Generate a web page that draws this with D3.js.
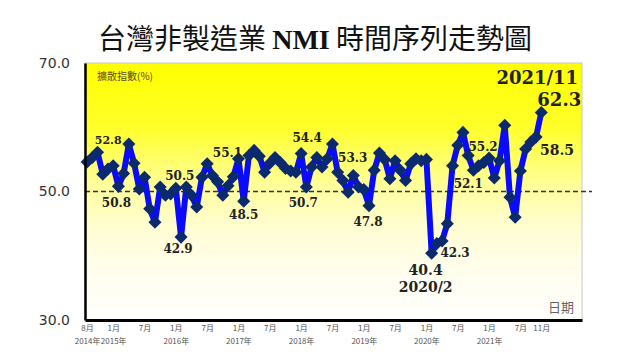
<!DOCTYPE html>
<html><head><meta charset="utf-8">
<script src="https://cdn.jsdelivr.net/npm/d3@7"></script>
<style>body{margin:0;background:#fff}svg{display:block}</style>
</head><body><svg id="c" width="640" height="360"></svg>
<script>
// ---------- data ----------
const titleCJK1 = "台灣非製造業";
const titleLatin = "NMI";
const titleCJK2 = "時間序列走勢圖";
const yAxisTitle = "擴散指數(%)";
const xAxisTitle = "日期";
const yTicks = [30, 50, 70];
const threshold = 50;
const startYear = 2014, startMonth = 8;           // first point: 2014/8
const nmi2014 = [54.6, 55.3, 56.1, 52.7, 53.5];
const nmi2015 = [54.0, 50.8, 52.8, 57.4, 54.4, 50.4, 52.2, 47.3, 45.2, 50.7, 49.4, 49.6];
const nmi2016 = [50.5, 42.9, 50.7, 49.4, 47.6, 52.2, 54.3, 52.5, 51.5, 49.4, 50.9, 52.3];
const nmi2017 = [55.1, 48.5, 55.6, 56.4, 55.5, 53.0, 54.4, 55.3, 54.5, 53.6, 53.2, 53.0];
const nmi2018 = [55.9, 50.7, 53.8, 55.3, 53.8, 55.1, 57.4, 53.0, 51.7, 49.9, 52.5, 50.7];
const nmi2019 = [50.3, 47.8, 53.3, 56.0, 55.0, 52.0, 54.8, 53.3, 51.7, 54.3, 55.1, 54.8];
const nmi2020 = [55.0, 40.4, 41.9, 42.3, 45.0, 54.0, 57.2, 59.2, 55.6, 53.3, 54.0, 54.5];
const nmi2021 = [55.2, 52.1, 54.8, 60.3, 49.1, 46.0, 53.2, 56.6, 57.7, 58.5, 62.3];
// callout texts attached to a month index
const callouts = [
  {i: 5, text: "52.8"}, {i: 6, text: "50.8"}, {i: 17, text: "50.5"}, {i: 18, text: "42.9"},
  {i: 29, text: "55.1"}, {i: 30, text: "48.5"}, {i: 41, text: "54.4"}, {i: 42, text: "50.7"},
  {i: 48, text: "53.3"}, {i: 54, text: "47.8"}, {i: 66, text: "40.4"}, {i: 66, text: "2020/2"},
  {i: 68, text: "42.3"}, {i: 78, text: "52.1"}, {i: 77, text: "55.2"}, {i: 86, text: "58.5"},
  {i: 87, text: "62.3"}, {i: 87, text: "2021/11"}
];

// ---------- layout ----------
const values = [].concat(nmi2014, nmi2015, nmi2016, nmi2017, nmi2018, nmi2019, nmi2020, nmi2021);
const months = values.map((v, k) => {
  const t = (startMonth - 1) + k;
  return {year: startYear + Math.floor(t / 12), month: t % 12 + 1, value: v, i: k};
});
const calloutStyle = {
  "52.8": [-5, -25, 11], "50.8": [-2, 17, 12], "50.5": [4, -12, 12], "42.9": [-3, 12, 12],
  "55.1": [-11, -6, 12], "48.5": [0, 14, 12], "54.4": [6, -16, 12], "50.7": [-3, 16, 12],
  "53.3": [15, -14, 12], "47.8": [-1, 16, 12], "40.4": [-6, 17, 14], "2020/2": [-6, 34, 14],
  "42.3": [13, 12, 12], "52.1": [-26, 6, 12], "55.2": [-6, -11, 12], "58.5": [21, 13, 14],
  "62.3": [18, -13, 18], "2021/11": [-4, -35, 18]
};

const svg = d3.select("#c");
const P = {l: 85, r: 582, t: 63, b: 320};
const x = d3.scaleLinear().domain([-0.4, 94.8]).range([P.l, P.r]);
const y = d3.scaleLinear().domain([30, 70]).range([P.b, P.t]);

const defs = svg.append("defs");
const g = defs.append("linearGradient").attr("id", "bg").attr("x1", 0).attr("y1", 0).attr("x2", 0).attr("y2", 1);
[[0, "#ffff00"], [0.25, "#ffff2a"], [0.47, "#ffff99"], [0.64, "#fffdd2"], [0.8, "#fffeec"], [1, "#ffffff"]]
  .forEach(([o, c]) => g.append("stop").attr("offset", o).attr("stop-color", c));

svg.append("rect").attr("x", P.l).attr("y", P.t).attr("width", P.r - P.l).attr("height", P.b - P.t)
  .attr("fill", "url(#bg)").attr("stroke", "#c8c8c8").attr("stroke-width", 1);

// title
const title = svg.append("text").attr("x", 315).attr("y", 49).attr("text-anchor", "middle")
  .attr("fill", "#111").style("font-size", "28px");
title.append("tspan").style("font-family", "'Noto Sans CJK TC'").text(titleCJK1 + " ");
title.append("tspan").style("font-family", "'Liberation Serif'").style("font-weight", "bold").text(titleLatin);
title.append("tspan").style("font-family", "'Noto Sans CJK TC'").text(" " + titleCJK2);

// threshold dashed line
svg.append("line").attr("x1", P.l).attr("x2", P.r + 10).attr("y1", y(threshold)).attr("y2", y(threshold))
  .attr("stroke", "#333").attr("stroke-width", 1.5).attr("stroke-dasharray", "5,3");

// series
svg.append("path").datum(months)
  .attr("d", d3.line().x(d => x(d.i)).y(d => y(d.value)))
  .attr("fill", "none").attr("stroke", "#0a0aff").attr("stroke-width", 6).attr("stroke-linejoin", "round");
svg.append("g").selectAll("path").data(months).join("path")
  .attr("d", d3.symbol(d3.symbolSquare, 85)())
  .attr("transform", d => `translate(${x(d.i)},${y(d.value)}) rotate(45)`)
  .attr("fill", "#0b2a6e");

// axes
const yAx = svg.append("g").attr("transform", `translate(${P.l},0)`)
  .call(d3.axisLeft(y).tickValues(yTicks).tickFormat(d3.format(".1f")).tickSize(0).tickPadding(15));
yAx.select(".domain").attr("stroke", "#000").attr("stroke-width", 2.5);
yAx.selectAll("text").style("font-family", "'DejaVu Sans'").style("font-size", "14px").attr("fill", "#333");

const monthTickIdx = months.filter((d, k) => k === 0 || k === months.length - 1 || d.month === 1 || d.month === 7).map(d => d.i);
const xAx = svg.append("g").attr("transform", `translate(0,${P.b})`)
  .call(d3.axisBottom(x).tickValues(monthTickIdx).tickFormat(i => months[i].month + "月").tickSize(0).tickPadding(5));
xAx.select(".domain").attr("stroke", "#000").attr("stroke-width", 3);
xAx.selectAll("text").style("font-family", "'Noto Sans CJK TC'").style("font-size", "8px").attr("fill", "#555");

const yearTickIdx = months.filter((d, k) => k === 0 || d.month === 1).map(d => d.i);
const yrAx = svg.append("g").attr("transform", `translate(0,${P.b})`)
  .call(d3.axisBottom(x).tickValues(yearTickIdx).tickFormat(i => months[i].year + "年").tickSize(0).tickPadding(18));
yrAx.select(".domain").remove();
yrAx.selectAll("text").style("font-family", "'Noto Sans CJK TC'").style("font-size", "8px").attr("fill", "#555");

// axis titles
svg.append("text").attr("x", P.l + 12).attr("y", 80).text(yAxisTitle)
  .style("font-family", "'Noto Sans CJK TC'").style("font-size", "10px").attr("fill", "#5a4a2a");
svg.append("text").attr("x", P.r - 8).attr("y", 312).attr("text-anchor", "end").text(xAxisTitle)
  .style("font-family", "'Noto Sans CJK TC'").style("font-size", "13px").attr("fill", "#666");

// callouts
svg.append("g").selectAll("text").data(callouts).join("text")
  .attr("x", d => x(d.i) + calloutStyle[d.text][0])
  .attr("y", d => y(values[d.i]) + calloutStyle[d.text][1])
  .attr("text-anchor", "middle").attr("dominant-baseline", "central")
  .style("font-family", "'DejaVu Serif'").style("font-weight", "bold")
  .style("font-size", d => calloutStyle[d.text][2] + "px")
  .attr("fill", "#222").text(d => d.text);
</script></body></html>
